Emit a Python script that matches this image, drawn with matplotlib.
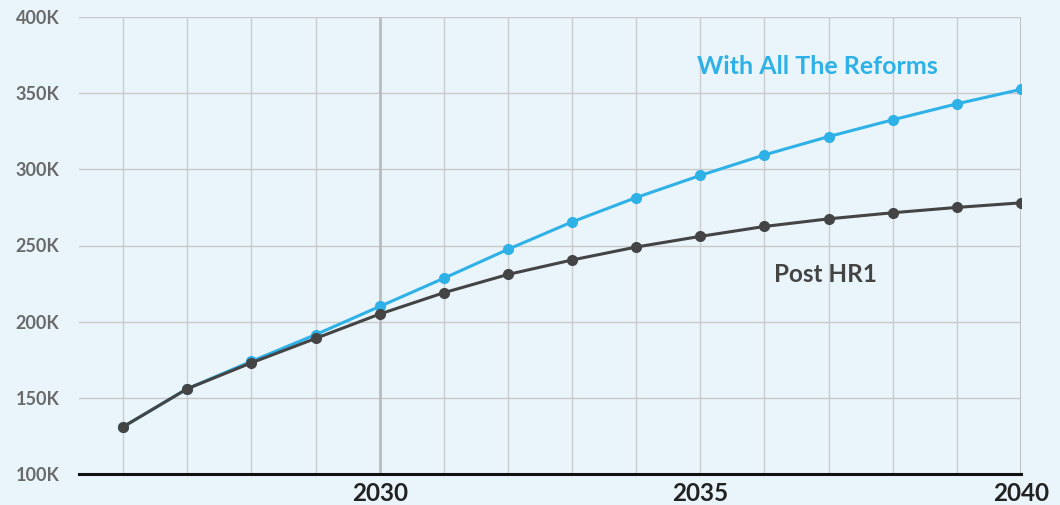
import matplotlib.pyplot as plt
import matplotlib.ticker as mticker

years = [2026, 2027, 2028, 2029, 2030, 2031, 2032, 2033, 2034, 2035, 2036, 2037, 2038, 2039, 2040]
post_hr1 = [131, 156, 173, 189, 205, 219, 231, 240.5, 249, 256, 262.5, 267.5, 271.5, 275, 278]
reforms = [131, 156, 174, 191.5, 210, 228.5, 247.5, 265.5, 281.5, 296, 309.5, 321.5, 332.5, 343, 352.5]
y_ticks = [100, 150, 200, 250, 300, 350, 400]
x_labels = {2030: "2030", 2035: "2035", 2040: "2040"}

bg = "#e9f5fb"
blue = "#2eb1e6"
dark = "#444444"

plt.rcParams['font.family'] = ['Lato', 'DejaVu Sans']

fig = plt.figure(figsize=(10.6, 5.05), dpi=100, facecolor=bg)
ax = fig.add_axes([79 / 1060, 31 / 505, 942 / 1060, 457 / 505])
ax.set_facecolor(bg)

# grid
for yv in y_ticks[1:]:
    ax.axhline(yv, color="#c9c9c9", lw=1, zorder=1)
for yr in years:
    strong = yr in (2030, 2040)
    ax.axvline(yr, color="#bcbcbc" if strong else "#cccccc", lw=2 if strong else 1, zorder=1)

ax.plot(years, reforms, color=blue, lw=2.2, marker="o", ms=7, zorder=3)
ax.plot(years, post_hr1, color=dark, lw=2.2, marker="o", ms=7, zorder=4)

ax.set_xlim(2025.31, 2040)
ax.set_ylim(100, 400)

for s in ["top", "left", "right"]:
    ax.spines[s].set_visible(False)
ax.spines["bottom"].set_color("#111111")
ax.spines["bottom"].set_linewidth(2.2)
ax.spines["bottom"].set_zorder(5)

ax.set_yticks(y_ticks)
ax.yaxis.set_major_formatter(mticker.FuncFormatter(lambda v, p: f"{int(v)}K"))
ax.tick_params(axis="y", length=0, pad=14, labelsize=13, labelcolor="#6a6a6a")
for t in ax.get_yticklabels():
    t.set_fontweight("bold")

ax.set_xticks(list(x_labels.keys()))
ax.set_xticklabels(list(x_labels.values()), fontsize=17.5, fontweight="bold", color="#222222")
ax.tick_params(axis="x", length=0, pad=6)

ax.text(2036.83, 367.5, "With All The Reforms", color=blue, fontsize=18, fontweight="bold",
        ha="center", va="center")
ax.text(2036.95, 231, "Post HR1", color=dark, fontsize=17.5, fontweight="bold",
        ha="center", va="center")

fig.savefig("out.png", dpi=100, facecolor=bg)
